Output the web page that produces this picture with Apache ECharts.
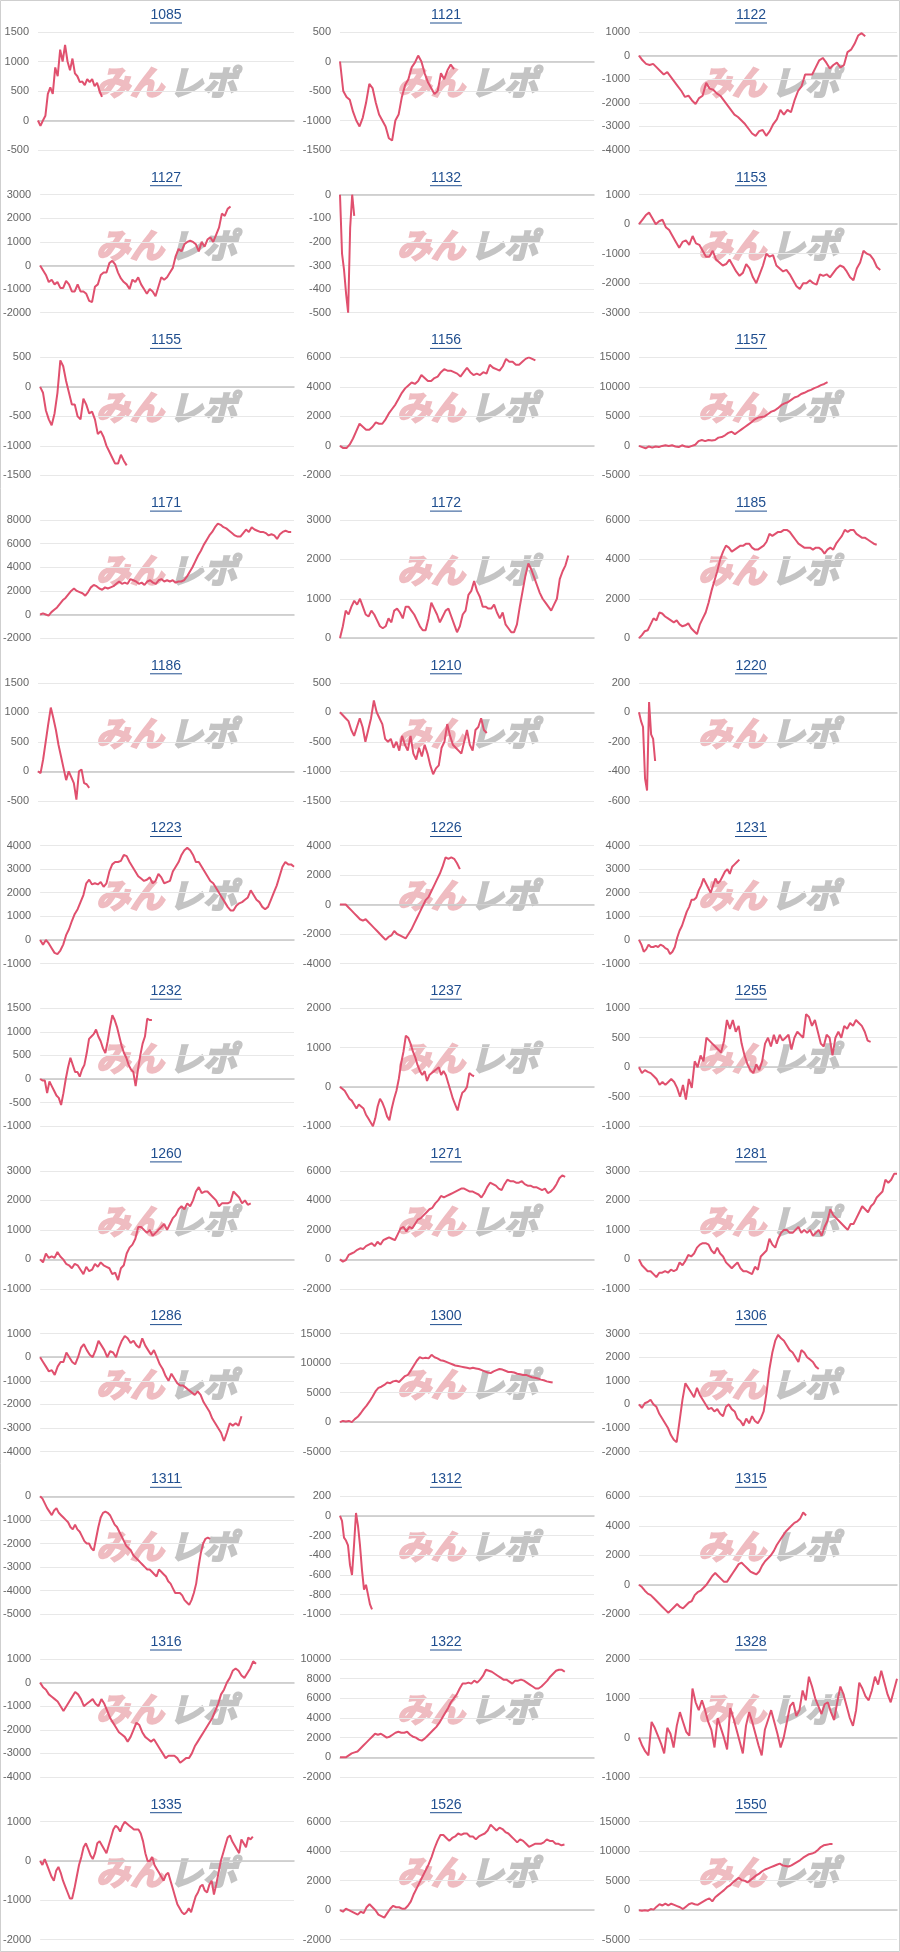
<!DOCTYPE html>
<html>
<head>
<meta charset="utf-8">
<title>みんレポ</title>
<script src="https://cdn.jsdelivr.net/npm/echarts@6/dist/echarts.min.js"></script>
<style>
html, body { margin: 0; padding: 0; background: #fff; }
#chart { width: 900px; height: 1952px; }
</style>
</head>
<body>
<div id="chart"></div>
<script>
// machine numbers, in page order (3 per row)
const names = ['1085', '1121', '1122', '1127', '1132', '1153', '1155', '1156', '1157',
  '1171', '1172', '1185', '1186', '1210', '1220', '1223', '1226', '1231',
  '1232', '1237', '1255', '1260', '1271', '1281', '1286', '1300', '1306',
  '1311', '1312', '1315', '1316', '1322', '1328', '1335', '1526', '1550'];

const s1085 = [0, -90, 0, 80, 450, 560, 450, 900, 750, 1200, 1000, 1280, 1000, 850, 1050, 800, 750, 650, 660, 600, 700, 650, 700, 580, 640, 500, 400];
const s1121 = [0, -500, -600, -650, -850, -1000, -1100, -950, -700, -380, -450, -700, -900, -1000, -1100, -1300, -1340, -1000, -900, -600, -400, -300, -100, -20, 100, 0, -200, -350, -450, -550, -500, -200, -300, -150, -50, -130];
const s1122 = [0, -200, -350, -400, -350, -500, -650, -800, -700, -900, -1100, -1300, -1500, -1750, -1700, -1900, -2050, -1800, -1700, -1150, -1400, -1450, -1600, -1700, -1900, -2100, -2300, -2500, -2600, -2750, -2900, -3100, -3300, -3400, -3200, -3150, -3400, -3200, -2900, -2700, -2300, -2500, -2300, -2400, -1900, -1500, -1300, -800, -800, -800, -500, -200, -100, -300, -550, -400, -300, -500, -400, 150, 250, 500, 850, 950, 820];
const s1127 = [0, -200, -400, -700, -600, -800, -700, -950, -950, -650, -800, -1100, -1100, -800, -1100, -1100, -1200, -1500, -1550, -900, -800, -400, -300, -300, 100, 200, 50, -300, -550, -700, -800, -1000, -600, -700, -500, -800, -1000, -1200, -1000, -1100, -1300, -900, -500, -600, -500, -300, -100, 400, 700, 600, 900, 1000, 1050, 1000, 900, 600, 1000, 800, 1100, 1200, 1000, 1300, 1600, 2200, 2100, 2400, 2500];
const s1132 = [0, -250, -320, -420, -500, -140, 0, -90];
const s1153 = [0, 150, 300, 400, 200, 0, 100, 150, -100, -200, -400, -600, -800, -600, -550, -700, -400, -650, -700, -900, -1100, -1100, -900, -1200, -1300, -1400, -1350, -1200, -1400, -1600, -1750, -1650, -1350, -1500, -1800, -2000, -1700, -1400, -1000, -1100, -1050, -1400, -1500, -1600, -1550, -1700, -1900, -2100, -2200, -2000, -2000, -1900, -2000, -2050, -1700, -1750, -1700, -1800, -1650, -1500, -1400, -1450, -1600, -1800, -1900, -1500, -1300, -900, -1000, -1050, -1200, -1450, -1550];
const s1155 = [0, -100, -400, -550, -650, -450, -100, 450, 350, 100, -100, -300, -300, -500, -550, -200, -300, -450, -420, -550, -800, -750, -850, -1000, -1100, -1200, -1300, -1300, -1150, -1250, -1330];
const s1156 = [0, -150, -150, 100, 500, 1000, 1500, 1300, 1100, 1100, 1300, 1600, 1500, 1500, 1800, 2200, 2500, 2800, 3200, 3600, 3900, 4100, 4300, 4200, 4400, 4800, 4600, 4400, 4400, 4600, 4700, 5000, 5200, 5100, 5100, 5000, 4900, 4700, 5000, 5300, 5000, 4800, 4900, 4800, 5000, 4900, 5500, 5300, 5200, 5100, 5400, 5900, 5700, 5700, 5500, 5500, 5700, 5900, 6000, 5900, 5800];
const s1157 = [0, -200, -400, -100, -300, -100, -200, 0, 100, 0, 100, -100, -200, 100, -100, -200, 0, 200, 800, 1000, 800, 1000, 900, 1000, 1400, 1500, 1800, 2200, 2400, 2000, 2400, 2800, 3200, 3600, 4000, 4500, 4800, 4900, 5000, 5400, 5800, 6000, 6400, 6900, 7200, 7400, 7800, 8200, 8400, 8800, 9000, 9300, 9500, 9800, 10000, 10300, 10500, 10800];
const s1171 = [0, 100, 0, -100, 200, 400, 600, 900, 1200, 1400, 1700, 2000, 2200, 2000, 1900, 1800, 1600, 1900, 2300, 2500, 2400, 2200, 2100, 2300, 2200, 2300, 2400, 2600, 2800, 2600, 2700, 2600, 3000, 2900, 2800, 2600, 2700, 2500, 2800, 2900, 2700, 2600, 2900, 3000, 2800, 2900, 2800, 2900, 2700, 2800, 2800, 2900, 3200, 3600, 4000, 4500, 5000, 5400, 5900, 6300, 6700, 7000, 7400, 7700, 7600, 7400, 7300, 7100, 6900, 6700, 6600, 6600, 6900, 7200, 7000, 7400, 7200, 7100, 7000, 7000, 6900, 6700, 6800, 6700, 6400, 6800, 7000, 7100, 7000, 7000];
const s1172 = [0, 300, 700, 600, 800, 950, 850, 1000, 800, 600, 550, 700, 600, 450, 300, 250, 300, 500, 400, 700, 750, 650, 500, 800, 800, 700, 600, 450, 300, 200, 200, 500, 900, 750, 600, 400, 550, 700, 750, 550, 350, 150, 300, 600, 700, 1100, 1200, 1450, 1200, 1050, 800, 800, 750, 750, 850, 650, 500, 650, 350, 250, 150, 150, 350, 800, 1200, 1600, 1900, 1750, 1550, 1350, 1150, 1000, 900, 800, 700, 850, 1000, 1500, 1700, 1850, 2100];
const s1185 = [0, 150, 350, 400, 700, 1000, 900, 1300, 1250, 1100, 1000, 900, 800, 900, 700, 600, 650, 750, 500, 350, 200, 700, 1000, 1300, 1800, 2400, 2900, 3400, 4000, 4400, 4700, 4600, 4400, 4500, 4600, 4700, 4700, 4800, 4800, 4600, 4500, 4500, 4600, 4700, 4900, 5300, 5200, 5300, 5400, 5400, 5500, 5500, 5400, 5200, 5000, 4800, 4700, 4600, 4600, 4600, 4500, 4600, 4600, 4500, 4300, 4500, 4600, 4500, 4800, 5000, 5200, 5500, 5400, 5500, 5500, 5300, 5200, 5100, 5100, 5000, 4900, 4800, 4750];
const s1186 = [0, -30, 200, 500, 800, 1080, 900, 700, 450, 250, 50, -150, 0, -100, -200, -480, 0, 30, -200, -220, -280];
const s1210 = [0, -50, -100, -150, -300, -400, -250, -100, -250, -500, -300, -100, 200, 0, -100, -200, -450, -500, -450, -600, -500, -650, -400, -550, -650, -400, -700, -800, -600, -750, -550, -700, -900, -1050, -950, -900, -600, -500, -200, -400, -550, -600, -650, -700, -500, -300, -550, -650, -300, -250, -100, -300, -350];
const s1220 = [0, -60, -100, -450, -530, 70, -150, -180, -330];
const s1223 = [0, -200, 0, -150, -350, -550, -600, -450, -200, 200, 450, 800, 1100, 1300, 1600, 1900, 2400, 2550, 2350, 2400, 2350, 2450, 2250, 2400, 2900, 3200, 3300, 3300, 3350, 3600, 3550, 3300, 3100, 2900, 2700, 2600, 2500, 2550, 2650, 2400, 2500, 2800, 2650, 2400, 2450, 2500, 2900, 3100, 3300, 3600, 3800, 3900, 3800, 3600, 3300, 3300, 3100, 2900, 2700, 2500, 2400, 2200, 2000, 1800, 1600, 1400, 1250, 1250, 1450, 1550, 1600, 1700, 1800, 2100, 1900, 1700, 1600, 1400, 1300, 1400, 1700, 2000, 2300, 2700, 3100, 3300, 3200, 3200, 3100];
const s1226 = [0, 0, 0, -200, -400, -600, -800, -1000, -1100, -1000, -1200, -1400, -1600, -1800, -2000, -2200, -2400, -2200, -2100, -1800, -2000, -2100, -2200, -2300, -2000, -1700, -1300, -900, -500, -100, 300, 500, 900, 1300, 1700, 2100, 2600, 3200, 3100, 3200, 3100, 2800, 2400];
const s1231 = [0, -200, -500, -400, -200, -300, -300, -250, -300, -200, -250, -350, -400, -600, -500, -300, 100, 400, 600, 900, 1200, 1400, 1700, 1700, 1800, 2100, 2300, 2600, 2400, 2200, 2000, 2300, 2600, 2400, 2500, 2700, 2900, 3000, 2800, 3100, 3200, 3300, 3400];
const s1232 = [0, -30, -30, -300, -50, -150, -250, -350, -400, -550, -300, 0, 250, 450, 300, 150, 150, 50, 200, 300, 550, 850, 900, 950, 1050, 900, 800, 650, 550, 800, 1100, 1350, 1250, 1100, 900, 700, 550, 450, 300, 200, 150, -150, 200, 500, 750, 900, 1280, 1250, 1250];
const s1237 = [0, -50, -100, -200, -300, -350, -450, -550, -450, -500, -550, -700, -800, -900, -1000, -800, -500, -300, -400, -550, -750, -850, -550, -300, -100, 200, 600, 900, 1300, 1250, 1100, 900, 750, 550, 400, 300, 400, 150, 300, 350, 400, 450, 500, 300, 400, 300, 100, -100, -300, -450, -600, -350, -150, -100, 0, 350, 300, 270];
const s1255 = [0, -100, -50, -80, -100, -150, -200, -300, -250, -300, -250, -200, -250, -350, -500, -300, -550, -200, -350, 100, 0, 200, 100, 500, 450, 400, 350, 300, 250, 450, 800, 650, 800, 600, 700, 400, 200, 50, -50, -100, 50, -50, 100, 400, 500, 350, 550, 400, 550, 450, 500, 550, 300, 500, 600, 550, 500, 900, 850, 700, 800, 600, 400, 350, 550, 500, 200, 500, 600, 500, 700, 650, 750, 700, 800, 750, 700, 600, 450, 430];
const s1260 = [0, -100, 200, 50, 100, 50, 250, 100, 0, -150, -200, -300, -150, -200, -350, -500, -250, -400, -350, -150, -250, -100, -200, -250, -300, -500, -450, -700, -300, -200, 200, 400, 500, 700, 1100, 1100, 1000, 900, 1000, 800, 900, 1000, 1100, 1200, 1000, 1200, 1400, 1500, 1700, 1800, 1700, 1900, 1800, 2000, 2300, 2450, 2250, 2300, 2300, 2200, 2100, 2000, 1800, 1900, 1900, 1900, 1950, 2300, 2200, 2100, 1900, 2000, 1850, 1900];
const s1271 = [0, -150, -50, 300, 400, 500, 650, 750, 700, 900, 1000, 1100, 900, 1200, 1000, 1300, 1400, 1500, 1400, 1300, 1700, 2100, 2200, 1900, 2200, 2100, 2400, 2700, 2800, 3000, 3200, 3400, 3500, 3800, 4000, 4300, 4200, 4300, 4400, 4500, 4600, 4700, 4800, 4800, 4700, 4600, 4600, 4500, 4400, 4200, 4500, 4900, 5200, 5100, 5000, 4800, 4700, 5100, 5400, 5300, 5300, 5200, 5200, 5300, 5100, 5000, 5000, 4900, 4900, 4800, 4700, 4800, 4500, 4600, 4800, 5100, 5500, 5700, 5600];
const s1281 = [0, -200, -300, -400, -400, -500, -600, -450, -450, -400, -450, -350, -400, -350, -100, -200, -50, 150, 100, 200, 400, 500, 550, 550, 500, 300, 200, 400, 200, 100, -100, -200, -300, -200, -100, -300, -400, -400, -450, -500, -250, -350, 100, 200, 300, 700, 500, 400, 700, 900, 1000, 1000, 900, 900, 1000, 1100, 900, 1000, 900, 1000, 800, 900, 1000, 800, 1100, 1300, 1700, 1500, 1400, 1300, 1200, 1100, 1000, 1200, 1200, 1400, 1600, 1800, 1700, 1600, 1800, 1900, 2100, 2200, 2300, 2700, 2600, 2700, 2900, 2900];
const s1286 = [0, -200, -400, -600, -550, -750, -400, -200, -200, 200, 0, -200, -300, 0, 400, 550, 300, 100, 0, 300, 700, 500, 300, 0, 250, 200, 0, 400, 700, 900, 800, 600, 700, 500, 400, 800, 500, 300, 100, 300, 0, -300, -500, -800, -1000, -700, -900, -1100, -1200, -1200, -1300, -1400, -1500, -1600, -1450, -1600, -1900, -2100, -2300, -2600, -2800, -3000, -3200, -3550, -3200, -2800, -2900, -2800, -2900, -2500];
const s1300 = [0, 200, 100, 200, 0, 500, 900, 1500, 2200, 2800, 3500, 4300, 5200, 5800, 6000, 6300, 6700, 6600, 6900, 7000, 6800, 7300, 7800, 8000, 8800, 9600, 10400, 11000, 10800, 10900, 10800, 11400, 11000, 10800, 10500, 10400, 10200, 10000, 9800, 9600, 9500, 9400, 9300, 9200, 9100, 9200, 9100, 9000, 8800, 8600, 8400, 8300, 8600, 8800, 9000, 8900, 8700, 8500, 8500, 8400, 8200, 8100, 8000, 8000, 7800, 7600, 7500, 7400, 7200, 7100, 6900, 6800, 6700];
const s1306 = [0, -150, 50, 100, 200, 0, -100, -400, -600, -800, -1000, -1300, -1500, -1600, -700, 200, 900, 700, 500, 300, 700, 400, 200, 0, -200, -150, -300, -200, -400, -500, -100, 0, -200, -300, -600, -700, -900, -600, -800, -500, -700, -800, -600, -300, 500, 1500, 2200, 2700, 2950, 2800, 2700, 2500, 2300, 2200, 2000, 1800, 2300, 2200, 2000, 1900, 1800, 1600, 1500];
const s1311 = [0, -100, -300, -500, -650, -800, -600, -500, -700, -800, -900, -1000, -1100, -1300, -1400, -1200, -1400, -1500, -1700, -1900, -2000, -2000, -2200, -2300, -1800, -1300, -900, -700, -650, -700, -800, -1000, -1200, -1300, -1500, -1700, -1900, -2100, -2200, -2300, -2500, -2600, -2700, -2800, -2900, -3000, -3100, -3100, -3200, -3300, -3400, -3100, -3200, -3300, -3400, -3600, -3700, -3900, -4100, -4100, -4100, -4200, -4400, -4500, -4600, -4400, -4100, -3700, -3000, -2400, -2000, -1800, -1750, -1800];
const s1312 = [0, -50, -220, -250, -300, -500, -600, -300, 30, -100, -300, -550, -750, -700, -800, -900, -950];
const s1315 = [0, -150, -400, -600, -700, -900, -1100, -1300, -1500, -1700, -1900, -1700, -1500, -1300, -1500, -1600, -1400, -1200, -1100, -700, -500, -400, -200, 0, 300, 600, 800, 600, 400, 200, 200, 500, 800, 1100, 1400, 1500, 1300, 1100, 900, 800, 700, 900, 1300, 1600, 1800, 2000, 2300, 2700, 3000, 3300, 3600, 3800, 4000, 4200, 4300, 4500, 4900, 4700];
const s1316 = [0, -200, -300, -500, -600, -700, -800, -1000, -1200, -1000, -800, -600, -400, -500, -700, -1000, -900, -800, -700, -900, -1000, -700, -900, -1200, -1500, -1700, -1900, -2100, -2200, -2300, -2500, -2300, -2000, -1700, -1800, -2100, -2300, -2400, -2500, -2400, -2600, -2800, -3000, -3200, -3100, -3100, -3100, -3200, -3400, -3300, -3200, -3200, -3000, -2700, -2500, -2300, -2100, -1900, -1700, -1500, -1200, -900, -500, -300, 0, 200, 500, 600, 500, 300, 200, 400, 600, 900, 800];
const s1322 = [0, 0, 0, 200, 400, 500, 600, 900, 1200, 1500, 1800, 2100, 2400, 2300, 2400, 2200, 2000, 2100, 2300, 2500, 2600, 2500, 2500, 2600, 2300, 2100, 2000, 1800, 1700, 1900, 2200, 2500, 2800, 3100, 3500, 4000, 4500, 5000, 5600, 6000, 6400, 7000, 7500, 7500, 7600, 7500, 7800, 7600, 7900, 8300, 8900, 8800, 8700, 8500, 8300, 8100, 7900, 7900, 7700, 7500, 7800, 7800, 7900, 7800, 7600, 7400, 7200, 7000, 7000, 7200, 7500, 7800, 8200, 8500, 8800, 8900, 8900, 8700];
const s1328 = [0, -200, -350, -450, 400, 250, 50, -150, -400, 250, 100, -250, 300, 650, 400, 150, 50, 1250, 900, 700, 950, 700, 400, 200, -250, 500, 250, 0, -300, 750, 500, 200, -100, -400, 300, 650, 400, 100, -200, -450, 200, 450, 700, 400, 100, -250, 0, 400, 800, 900, 550, 700, 1200, 950, 1550, 1300, 1000, 800, 600, 850, 900, 650, 450, 900, 1300, 1100, 800, 500, 300, 700, 1400, 1250, 1050, 950, 1200, 1550, 1350, 1700, 1400, 1100, 900, 1200, 1500];
const s1335 = [0, -100, 50, -100, -250, -400, -500, -250, -150, -300, -500, -650, -800, -950, -950, -700, -400, -100, 100, 350, 450, 300, 150, 50, 200, 450, 500, 400, 300, 200, 400, 600, 800, 900, 850, 750, 900, 1000, 950, 900, 850, 800,
  800, 800, 700, 500, 200, 0, 0, 100, -100, -200, -300, -400, -500, -350, -300, -500, -700, -900, -1100, -1200, -1300, -1350, -1300, -1200, -1300, -1100, -900, -800, -650, -600, -750, -800, -600, -500, -850, -600, -300, 0, 200, 400, 600, 650, 500, 400, 300, 200, 550, 450, 350, 600, 550, 620];
const s1526 = [0, -100, 100, 0, -100, -200, -300, -100, -200, 200, 400, 200, 0, -300, -400, -500, -200, 100, 300, 200, 200, 100, 100, 300, 600, 1100, 1500, 1900, 2300, 2700, 3100, 3600, 4200, 4700, 5100, 5100, 4900, 4700, 4900, 5000, 5200, 5100, 5200, 5200, 5000, 5000, 4800, 5000, 5100, 5200, 5400, 5800, 5600, 5400, 5600, 5500, 5300, 5200, 5000, 4800, 4600, 4800, 4700, 4500, 4300, 4400, 4500, 4500, 4500, 4600, 4800, 4700, 4700, 4500, 4500, 4400, 4450];
const s1550 = [0, -100, 0, -100, 200, 100, 600, 1000, 800, 1100, 800, 1100, 900, 700, 500, 200, 600, 1000, 1200, 1000, 900, 1200, 1500, 1800, 2000, 1500, 2200, 2600, 3000, 3400, 3900, 4200, 4700, 5100, 5500, 5100, 5000, 4700, 5100, 5500, 5900, 6200, 6600, 6900, 7100, 7300, 7500, 7700, 7900, 7600, 7500, 7400, 7600, 7900, 8200, 8500, 8900, 9200, 9500, 9600, 9800, 10200, 10700, 11000, 11100, 11200, 11200];

const values = [s1085, s1121, s1122, s1127, s1132, s1153, s1155, s1156, s1157,
  s1171, s1172, s1185, s1186, s1210, s1220, s1223, s1226, s1231,
  s1232, s1237, s1255, s1260, s1271, s1281, s1286, s1300, s1306,
  s1311, s1312, s1315, s1316, s1322, s1328, s1335, s1526, s1550];

// how many x slots each chart's axis has (the line fills only part of it)
const slots = [105, 79, 74, 89, 126, 78, 89, 79, 79,
  91, 90, 90, 101, 91, 129, 89, 90, 109,
  110, 109, 89, 89, 89, 90, 88, 87, 90,
  110, 128, 89, 88, 88, 83, 112, 87, 89];

const yMin = [-500, -1500, -4000, -2000, -500, -3000, -1500, -2000, -5000,
  -2000, 0, 0, -500, -1500, -600, -1000, -4000, -1000,
  -1000, -1000, -1000, -1000, -2000, -1000, -4000, -5000, -2000,
  -5000, -1000, -2000, -4000, -2000, -1000, -2000, -2000, -5000];
const yMax = [1500, 500, 1000, 3000, 0, 1000, 500, 6000, 15000,
  8000, 3000, 6000, 1500, 500, 200, 4000, 4000, 4000,
  1500, 2000, 1000, 3000, 6000, 3000, 1000, 15000, 3000,
  0, 200, 6000, 1000, 10000, 2000, 1000, 6000, 15000];
const yStep = [500, 500, 1000, 1000, 100, 1000, 500, 2000, 5000,
  2000, 1000, 2000, 500, 500, 200, 1000, 2000, 1000,
  500, 1000, 500, 1000, 2000, 1000, 1000, 5000, 1000,
  1000, 200, 2000, 1000, 2000, 1000, 1000, 2000, 5000];

const chart = echarts.init(document.getElementById('chart'));

const colLeft = [38, 340, 639];
const colWidth = [256, 254, 258];
const titleX = [166, 446, 751];
const rowPitch = 162.7;
const plotTop = 32;
const plotHeight = 118;
const wmFont = 'italic bold 34px "Noto Sans CJK JP", sans-serif';

const grids = [], xAxes = [], yAxes = [], series = [], graphics = [];

names.forEach((name, i) => {
  const r = Math.floor(i / 3), c = i % 3;
  const top = plotTop + r * rowPitch;
  grids.push({ left: colLeft[c], top: top, width: colWidth[c], height: plotHeight });
  xAxes.push({
    gridIndex: i,
    type: 'category',
    boundaryGap: false,
    data: Array.from({ length: slots[i] }, (_, k) => k),
    axisLabel: { show: false },
    axisTick: { show: false },
    splitLine: { show: false },
    axisLine: { show: true, onZero: true, lineStyle: { color: '#c6c6c6', width: 1.5 } }
  });
  yAxes.push({
    gridIndex: i,
    type: 'value',
    min: yMin[i],
    max: yMax[i],
    interval: yStep[i],
    axisLine: { show: false },
    axisTick: { show: false },
    axisLabel: {
      fontSize: 11, color: '#666', margin: 9,
      fontFamily: 'Liberation Sans, Arial, sans-serif',
      formatter: v => String(v)
    },
    splitLine: { lineStyle: { color: '#e8e8e8', width: 1 } }
  });
  series.push({
    type: 'line',
    name: name,
    xAxisIndex: i,
    yAxisIndex: i,
    data: values[i],
    symbol: 'none',
    lineStyle: { color: '#e0506e', width: 2 },
    z: 5
  });

  // title (link style, underlined)
  const ty = 15 + r * rowPitch;
  graphics.push({
    type: 'text', x: titleX[c], y: ty, z: 10,
    style: { text: name, align: 'center', verticalAlign: 'middle', fill: '#1f4e8f',
      font: '14px "Liberation Sans", Arial, sans-serif' }
  });
  graphics.push({
    type: 'rect', z: 10,
    shape: { x: titleX[c] - 16, y: ty + 7.5, width: 32, height: 1 },
    style: { fill: '#1f4e8f' }
  });

  // watermark
  const cx = colLeft[c] + colWidth[c] / 2;
  const wy = top + 50;
  graphics.push({
    type: 'text', x: cx - 2, y: wy, z: -1,
    style: { text: 'みん', align: 'right', verticalAlign: 'middle', fill: '#efbcc1',
      stroke: '#efbcc1', lineWidth: 2, font: wmFont }
  });
  graphics.push({
    type: 'text', x: cx + 3, y: wy, z: -1,
    style: { text: 'レポ', align: 'left', verticalAlign: 'middle', fill: '#c4c4c4',
      stroke: '#c4c4c4', lineWidth: 2, font: wmFont }
  });
});

// outer frame
graphics.push({
  type: 'rect', z: 20,
  shape: { x: 0.5, y: 0.5, width: 899, height: 1951 },
  style: { fill: 'none', stroke: '#cfcfcf', lineWidth: 1 }
});

const option = {
  animation: false,
  backgroundColor: '#fff',
  grid: grids,
  xAxis: xAxes,
  yAxis: yAxes,
  series: series,
  graphic: graphics
};

option && chart.setOption(option);
</script>
</body>
</html>
